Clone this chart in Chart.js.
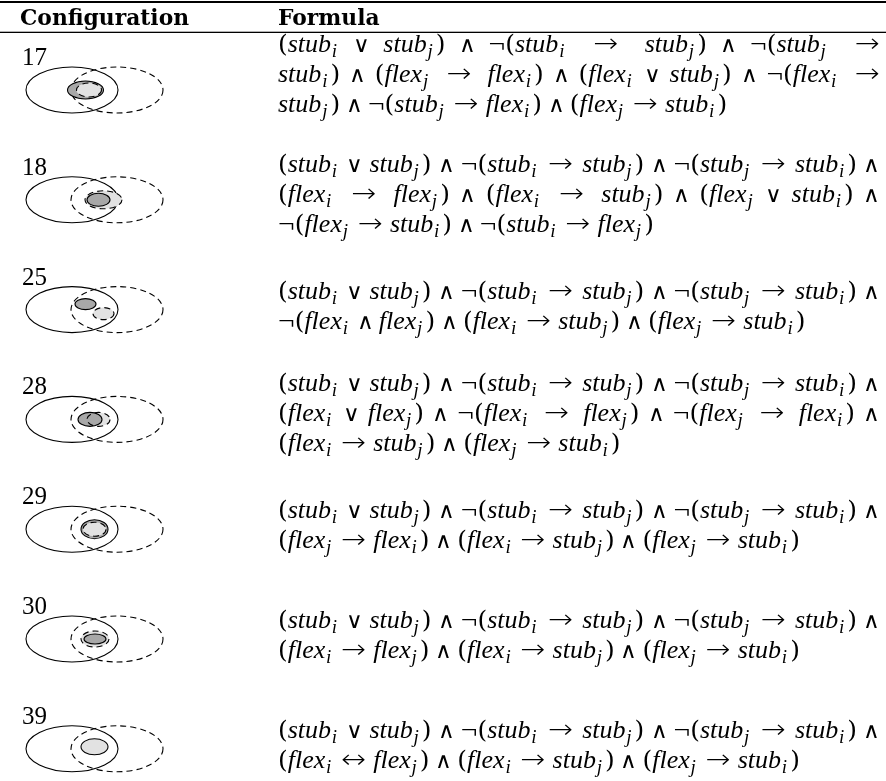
<!DOCTYPE html>
<html>
<head>
<meta charset="utf-8">
<script src="https://cdn.jsdelivr.net/npm/chart.js@4.4.1/dist/chart.umd.min.js"></script>
<style>
    html, body { margin: 0; padding: 0; background: #ffffff; }
    #wrap { width: 886px; height: 781px; }
</style>
</head>
<body>
<div id="wrap"><canvas id="configChart" width="886" height="781"></canvas></div>
<script>
// Configuration numbers, one per table row
const configs = ['17', '18', '25', '28', '29', '30', '39'];

// Formula of each configuration, split the way it is printed
const formulas = [
    ['(stub_i ∨ stub_j) ∧ ¬(stub_i → stub_j) ∧ ¬(stub_j →',
     'stub_i) ∧ (flex_j → flex_i) ∧ (flex_i ∨ stub_j) ∧ ¬(flex_i →',
     'stub_j) ∧ ¬(stub_j → flex_i) ∧ (flex_j → stub_i)'],
    ['(stub_i ∨ stub_j) ∧ ¬(stub_i → stub_j) ∧ ¬(stub_j → stub_i) ∧',
     '(flex_i → flex_j) ∧ (flex_i → stub_j) ∧ (flex_j ∨ stub_i) ∧',
     '¬(flex_j → stub_i) ∧ ¬(stub_i → flex_j)'],
    ['(stub_i ∨ stub_j) ∧ ¬(stub_i → stub_j) ∧ ¬(stub_j → stub_i) ∧',
     '¬(flex_i ∧ flex_j) ∧ (flex_i → stub_j) ∧ (flex_j → stub_i)'],
    ['(stub_i ∨ stub_j) ∧ ¬(stub_i → stub_j) ∧ ¬(stub_j → stub_i) ∧',
     '(flex_i ∨ flex_j) ∧ ¬(flex_i → flex_j) ∧ ¬(flex_j → flex_i) ∧',
     '(flex_i → stub_j) ∧ (flex_j → stub_i)'],
    ['(stub_i ∨ stub_j) ∧ ¬(stub_i → stub_j) ∧ ¬(stub_j → stub_i) ∧',
     '(flex_j → flex_i) ∧ (flex_i → stub_j) ∧ (flex_j → stub_i)'],
    ['(stub_i ∨ stub_j) ∧ ¬(stub_i → stub_j) ∧ ¬(stub_j → stub_i) ∧',
     '(flex_i → flex_j) ∧ (flex_i → stub_j) ∧ (flex_j → stub_i)'],
    ['(stub_i ∨ stub_j) ∧ ¬(stub_i → stub_j) ∧ ¬(stub_j → stub_i) ∧',
     '(flex_i ↔ flex_j) ∧ (flex_i → stub_j) ∧ (flex_j → stub_i)']
];

// Diagram regions (x units of the chart, dy = offset from the row centre)
const stubI = { x: 72, dy: 0, rx: 46, ry: 23 };
const stubJ = { x: 117, dy: 0, rx: 46, ry: 23 };
const flexI = [
    { x: 85.5, dy: 0, rx: 18, ry: 9 },
    { x: 98.5, dy: 0, rx: 11.5, ry: 6.5 },
    { x: 85.5, dy: -5.5, rx: 10.5, ry: 5.5 },
    { x: 90, dy: 0, rx: 12, ry: 7 },
    { x: 94.5, dy: 0, rx: 13.5, ry: 9.5 },
    { x: 95, dy: 0, rx: 11, ry: 5 },
    null
];
const flexJ = [
    { x: 89, dy: 0, rx: 12.5, ry: 7 },
    { x: 103.5, dy: 0, rx: 18.5, ry: 9 },
    { x: 103.5, dy: 4, rx: 10.5, ry: 6 },
    { x: 98.5, dy: 0, rx: 11.5, ry: 7 },
    { x: 94.5, dy: 0, rx: 11.5, ry: 7 },
    { x: 95, dy: 0, rx: 14, ry: 8 },
    null
];
// flex_i and flex_j coincide (configuration 39)
const flexSame = [null, null, null, null, null, null, { x: 94.5, dy: -2, rx: 13.5, ry: 8 }];
// which flex region is painted first
const flexOrder = ['ij', 'ji', 'ij', 'ji', 'ij', 'ji', ''];

const DARK = '#a8a8a8';
const LIGHT = '#e2e2e2';
const DASH = [6, 4];
const EM = 25;
const MU = EM / 18;
const TEXT_LEFT = 278;
const TEXT_RIGHT = 880;
const SUB_FONT = 'italic 19px "Liberation Serif"';

function tokenize(str) {
    const re = /(stub|flex)_([ij])|[()¬∧∨→↔]/g;
    const toks = [];
    let m;
    while ((m = re.exec(str))) {
        if (m[1]) toks.push({ t: 'var', name: m[1], sub: m[2] });
        else if ('∧∨'.includes(m[0])) toks.push({ t: 'bin', s: m[0] });
        else if ('→↔'.includes(m[0])) toks.push({ t: 'rel', s: m[0] });
        else toks.push({ t: 'ord', s: m[0] });
    }
    return toks;
}

// font and fixed advance (in px) of each symbol
function symbolStyle(tok) {
    if (tok.t === 'bin') return { font: '200 22px "DejaVu Sans"', w: 0.667 * EM };
    if (tok.t === 'rel') return { font: '200 26px "DejaVu Sans"', w: 1.0 * EM };
    if (tok.s === '¬') return { font: '26px "Liberation Serif"', w: 0.667 * EM };
    return { font: '25px "DejaVu Serif"', w: 0.389 * EM };
}

function tokenWidth(ctx, tok) {
    if (tok.t !== 'var') return symbolStyle(tok).w;
    ctx.font = 'italic 26px "Liberation Serif"';
    let w = ctx.measureText(tok.name).width;
    ctx.font = SUB_FONT;
    w += ctx.measureText(tok.sub).width + 3.8;
    return w;
}

function drawMathLine(ctx, str, x0, baseline, justify) {
    const toks = tokenize(str);
    const widths = toks.map(t => tokenWidth(ctx, t));
    // TeX-like glue between atoms
    const glue = [];
    for (let k = 1; k < toks.length; k++) {
        const a = toks[k - 1].t, b = toks[k].t;
        if (a === 'rel' || b === 'rel') glue.push({ n: 5 * MU, s: 5 * MU, h: 0 });
        else if (a === 'bin' || b === 'bin') glue.push({ n: 4 * MU, s: 2 * MU, h: 4 * MU });
        else glue.push({ n: 0, s: 0, h: 0 });
    }
    const natural = widths.reduce((a, b) => a + b, 0) + glue.reduce((a, g) => a + g.n, 0);
    const gaps = glue.map(g => g.n);
    if (justify) {
        const delta = (TEXT_RIGHT - x0) - natural;
        const totS = glue.reduce((a, g) => a + g.s, 0);
        const totH = glue.reduce((a, g) => a + g.h, 0);
        glue.forEach((g, k) => {
            if (delta >= 0) gaps[k] += delta * g.s / totS;
            else if (totH > 0) gaps[k] += delta * g.h / totH;
        });
    }
    let x = x0;
    toks.forEach((tok, k) => {
        if (tok.t === 'var') {
            ctx.font = 'italic 26px "Liberation Serif"';
            ctx.fillText(tok.name, x, baseline);
            const w = ctx.measureText(tok.name).width;
            ctx.font = SUB_FONT;
            ctx.fillText(tok.sub, x + w + 0.8, baseline + 5);
        } else {
            const st = symbolStyle(tok);
            ctx.font = st.font;
            const gw = ctx.measureText(tok.s).width;
            ctx.save();
            ctx.translate(x, baseline);
            ctx.scale(st.w / gw, 1);
            ctx.fillText(tok.s, 0, 0);
            ctx.restore();
        }
        x += widths[k] + (k < gaps.length ? gaps[k] : 0);
    });
}

function ellipsePath(ctx, cx, cy, rx, ry) {
    ctx.beginPath();
    ctx.ellipse(cx, cy, rx, ry, 0, 0, Math.PI * 2);
}

const tablePlugin = {
    id: 'tableLayer',
    afterDatasetsDraw(chart) {
        const ctx = chart.ctx;
        const xs = chart.scales.x;
        const px = v => xs.getPixelForValue(v);
        const len = v => xs.getPixelForValue(v) - xs.getPixelForValue(0);
        const area = chart.chartArea;
        const meta = chart.getDatasetMeta(0);

        ctx.save();
        ctx.fillStyle = '#000000';
        ctx.textBaseline = 'alphabetic';
        ctx.textAlign = 'left';

        // top rule and header rule
        ctx.fillRect(area.left, area.top + 1, area.right - area.left, 2);
        ctx.fillRect(area.left, area.top + 31.7, area.right - area.left, 1.3);

        // header
        ctx.font = 'bold 21.8px "DejaVu Serif"';
        ctx.fillText('Configuration', px(20), area.top + 25);
        ctx.fillText('Formula', px(TEXT_LEFT), area.top + 25);

        meta.data.forEach((pt, i) => {
            const cy = pt.y;

            // configuration number
            ctx.fillStyle = '#000000';
            ctx.font = '25px "Liberation Serif"';
            ctx.fillText(configs[i], pt.x, cy - 25);

            // stub regions
            ctx.lineWidth = 1.1;
            ctx.strokeStyle = '#000000';
            const region = (e) => ellipsePath(ctx, px(e.x), cy + len(e.dy), len(e.rx), len(e.ry));
            region(stubI);
            ctx.setLineDash([]);
            ctx.stroke();
            region(stubJ);
            ctx.setLineDash(DASH);
            ctx.stroke();

            // flex regions
            const shapes = [];
            if (flexSame[i]) shapes.push({ e: flexSame[i], fill: LIGHT, dash: [] });
            for (const c of flexOrder[i]) {
                if (c === 'i') shapes.push({ e: flexI[i], fill: DARK, dash: [] });
                else shapes.push({ e: flexJ[i], fill: LIGHT, dash: DASH });
            }
            shapes.forEach(s => {
                region(s.e);
                ctx.fillStyle = s.fill;
                ctx.fill();
            });
            shapes.forEach(s => {
                region(s.e);
                ctx.setLineDash(s.dash);
                ctx.stroke();
            });
            ctx.setLineDash([]);

            // formula lines
            ctx.fillStyle = '#000000';
            const lines = formulas[i];
            let base = lines.length === 3 ? cy - 28 : cy - 11;
            if (i === 0) base -= 10;
            lines.forEach((ln, k) => {
                drawMathLine(ctx, ln, px(TEXT_LEFT), base + k * 30, k < lines.length - 1);
            });
        });
        ctx.restore();
    }
};

const ctx = document.getElementById('configChart').getContext('2d');
const configChart = new Chart(ctx, {
    type: 'scatter',
    data: {
        datasets: [{
            label: 'Configuration',
            data: configs.map((c, i) => ({ x: 22, y: i })),
            pointRadius: 0,
            pointHoverRadius: 0
        }]
    },
    options: {
        responsive: false,
        animation: false,
        events: [],
        layout: { padding: 0 },
        scales: {
            x: { type: 'linear', min: 0, max: 886, display: false },
            y: { type: 'linear', min: -0.81967, max: 6.29326, reverse: true, display: false }
        },
        plugins: {
            legend: { display: false },
            tooltip: { enabled: false }
        }
    },
    plugins: [tablePlugin]
});
</script>
</body>
</html>
